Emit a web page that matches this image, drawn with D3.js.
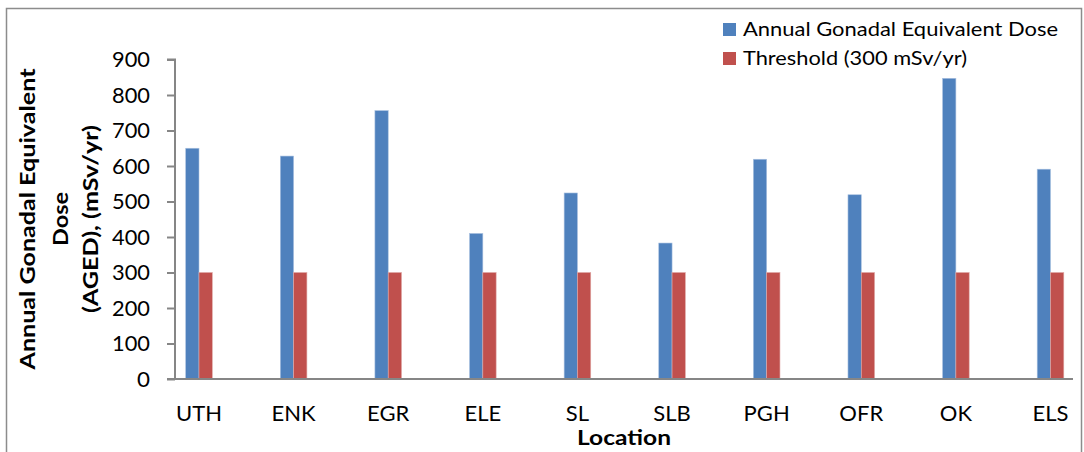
<!DOCTYPE html>
<html><head><meta charset="utf-8">
<script src="https://cdn.jsdelivr.net/npm/d3@7"></script>
<style>body{margin:0;background:#fff}svg{display:block}text{font-family:Lato,"Open Sans",sans-serif;fill:#000}</style>
</head><body><svg id="c" width="1084" height="452"></svg>
<script>
const categories = ["UTH","ENK","EGR","ELE","SL","SLB","PGH","OFR","OK","ELS"];
const agedValues = [650, 628, 756, 410, 524, 383, 619, 519, 847, 591];
const thresholdValues = [300, 300, 300, 300, 300, 300, 300, 300, 300, 300];
const seriesNames = ["Annual Gonadal Equivalent Dose", "Threshold (300 mSv/yr)"];
const yTicks = [0,100,200,300,400,500,600,700,800,900];

const svg = d3.select("#c");
const colors = ["#4F81BD", "#C0504D"];
const axisColor = "#868686";

// outer border
svg.append("rect").attr("x",6.5).attr("y",8.5).attr("width",1075).attr("height",470)
  .attr("fill","none").attr("stroke","#8c8c8c").attr("stroke-width",1.5);

const plotL = 175, plotR = 1073, plotT = 59.5, plotB = 379;
const y = d3.scaleLinear().domain([0,900]).range([plotB, plotT]);
const x = d3.scalePoint().domain(categories).range([199, 1050.5]);
const inner = d3.scaleBand().domain([0,1]).range([-13.3, 13.3]);

const data = categories.map((c,i)=>({c, vals:[agedValues[i], thresholdValues[i]]}));

const g = svg.append("g");
data.forEach(d=>{
  d.vals.forEach((v,s)=>{
    g.append("rect")
      .attr("x", x(d.c)+inner(s))
      .attr("y", y(v))
      .attr("width", inner.bandwidth())
      .attr("height", y(0)-y(v))
      .attr("fill", colors[s])
      .attr("stroke", s===0 ? "#a9c1e0" : "#e0a9a7")
      .attr("stroke-width", 0.6);
  });
});

// y axis
const yAxis = d3.axisLeft(y).tickValues(yTicks).tickSize(8).tickPadding(17);
const yg = svg.append("g").attr("transform",`translate(${plotL},0)`).call(yAxis);
yg.select(".domain").attr("stroke",axisColor).attr("stroke-width",2).attr("d",`M-8,${plotT}H0V${plotB}`);
yg.selectAll(".tick line").attr("stroke",axisColor).attr("stroke-width",2);
yg.selectAll(".tick text").attr("font-size",22).attr("font-family","Lato").attr("fill","#000")
  .attr("textLength", d => d===0 ? 13 : 38).attr("lengthAdjust","spacingAndGlyphs");

// x axis line
svg.append("line").attr("x1",167).attr("x2",plotR).attr("y1",plotB).attr("y2",plotB)
  .attr("stroke",axisColor).attr("stroke-width",2);
// x labels
svg.append("g").selectAll("text").data(categories).join("text")
  .attr("x", d=>x(d)).attr("y", 421).attr("text-anchor","middle")
  .attr("font-size",22).text(d=>d);

// x title
svg.append("text").attr("x",624).attr("y",445).attr("text-anchor","middle")
  .attr("font-size",20).attr("font-weight","bold")
  .attr("textLength",94).attr("lengthAdjust","spacingAndGlyphs").text("Location");

// y title
const yTitle = ["Annual Gonadal Equivalent","Dose","(AGED), (mSv/yr)"];
const yTitleLen = [301, 54, 188];
const ycx = [35, 68, 98];
yTitle.forEach((t,i)=>{
  svg.append("text").attr("transform",`translate(${ycx[i]},219) rotate(-90)`)
    .attr("text-anchor","middle").attr("font-size",20).attr("font-weight","bold")
    .attr("textLength",yTitleLen[i]).attr("lengthAdjust","spacingAndGlyphs").text(t);
});

// legend
const legLen = [315, 224];
const leg = svg.append("g");
seriesNames.forEach((n,i)=>{
  leg.append("rect").attr("x",723).attr("y",23+i*29).attr("width",13).attr("height",13).attr("fill",colors[i]);
  leg.append("text").attr("x",743).attr("y",36+i*29).attr("font-size",19)
    .attr("textLength",legLen[i]).attr("lengthAdjust","spacingAndGlyphs").text(n);
});
</script></body></html>
